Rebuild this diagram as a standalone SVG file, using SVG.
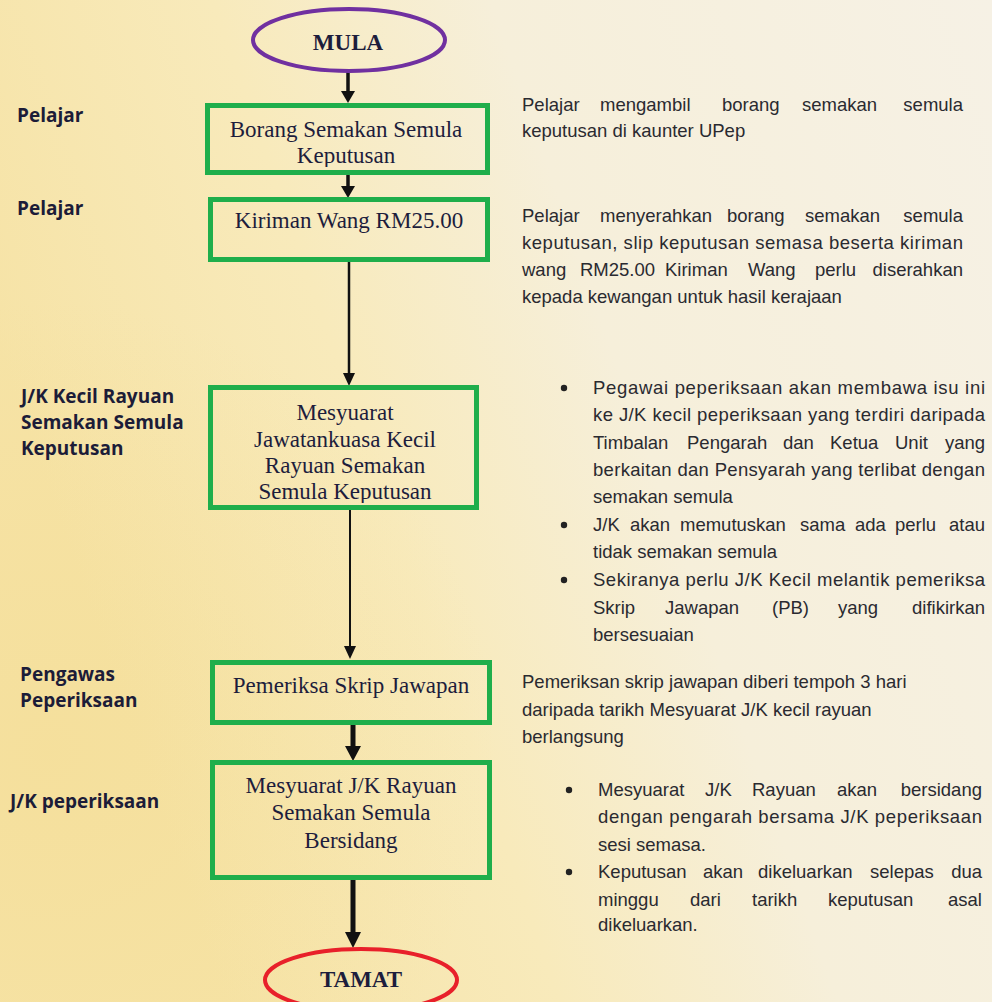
<svg xmlns="http://www.w3.org/2000/svg" width="992" height="1002" viewBox="0 0 992 1002">
<defs>
<linearGradient id="bg" x1="0" y1="0.35" x2="1" y2="0">
<stop offset="0" stop-color="#f6e3a6"/>
<stop offset="0.3" stop-color="#f8eabb"/>
<stop offset="0.55" stop-color="#f6efda"/>
<stop offset="1" stop-color="#f6f1e5"/>
</linearGradient>
<radialGradient id="glow" cx="0.05" cy="0.75" r="0.45">
<stop offset="0" stop-color="#f3d98a" stop-opacity="0.35"/>
<stop offset="1" stop-color="#f3d98a" stop-opacity="0"/>
</radialGradient>
<clipPath id="c1"><rect x="210" y="108" width="275" height="59"/></clipPath>
<clipPath id="c3"><rect x="213" y="390" width="261" height="113"/></clipPath>
<style>
.box{fill:none;stroke:#1fae4b;stroke-width:5}
.bt{font-family:"Liberation Serif","Times New Roman",serif;font-size:23px;fill:#1d1d3c;text-anchor:middle}
.term{font-family:"Liberation Serif","Times New Roman",serif;font-size:23px;font-weight:bold;fill:#1d1d3c;text-anchor:middle}
.lab{font-family:"Open Sans","Liberation Sans",sans-serif;font-size:19px;font-weight:bold;fill:#1c1c38}
.rt{font-family:"Liberation Sans",Arial,sans-serif;font-size:18.5px;fill:#2a2a30}
.e{text-anchor:end}
.ln{stroke:#111;fill:none}
.hd{fill:#111}
</style>
</defs>
<rect width="992" height="1002" fill="url(#bg)"/>
<rect width="992" height="1002" fill="url(#glow)"/>

<g id="connectors">
<line class="ln" x1="348" y1="72" x2="348" y2="92" stroke-width="3.5"/>
<polygon class="hd" points="341,91 355,91 348,103"/>
<line class="ln" x1="348" y1="175" x2="348" y2="187" stroke-width="3.5"/>
<polygon class="hd" points="341,186 355,186 348,198"/>
<line class="ln" x1="349" y1="262" x2="349" y2="375" stroke-width="2.5"/>
<polygon class="hd" points="343,373 355,373 349,386"/>
<line class="ln" x1="350" y1="510" x2="350" y2="648" stroke-width="2"/>
<polygon class="hd" points="344,646 356,646 350,659"/>
<line class="ln" x1="353" y1="725" x2="353" y2="748" stroke-width="5"/>
<polygon class="hd" points="345,746 361,746 353,761"/>
<line class="ln" x1="353" y1="880" x2="353" y2="934" stroke-width="5"/>
<polygon class="hd" points="345,932 361,932 353,948"/>
</g>

<g id="mula">
<ellipse cx="349" cy="40" rx="96" ry="31" fill="none" stroke="#7030a0" stroke-width="4"/>
<text class="term" x="348" y="50">MULA</text>
</g>

<g id="borang">
<g clip-path="url(#c1)">
<text class="bt" x="346" y="137">Borang Semakan Semula</text>
<text class="bt" x="346" y="163">Keputusan</text>
</g>
<rect class="box" x="207.5" y="105.5" width="280" height="67"/>
</g>

<g id="kiriman">
<rect class="box" x="210.5" y="199.5" width="277" height="60"/>
<text class="bt" x="349" y="228">Kiriman Wang RM25.00</text>
</g>

<g id="mesyuarat-kecil">
<g clip-path="url(#c3)">
<text class="bt" x="345" y="420">Mesyuarat</text>
<text class="bt" x="345" y="447">Jawatankuasa Kecil</text>
<text class="bt" x="345" y="473">Rayuan Semakan</text>
<text class="bt" x="345" y="499">Semula Keputusan</text>
</g>
<rect class="box" x="210.5" y="387.5" width="266" height="120"/>
</g>

<g id="pemeriksa">
<rect class="box" x="212.5" y="662.5" width="277" height="60"/>
<text class="bt" x="351" y="693">Pemeriksa Skrip Jawapan</text>
</g>

<g id="mesyuarat-rayuan">
<rect class="box" x="212.5" y="762.5" width="277" height="115"/>
<text class="bt" x="351" y="793">Mesyuarat J/K Rayuan</text>
<text class="bt" x="351" y="820">Semakan Semula</text>
<text class="bt" x="351" y="848">Bersidang</text>
</g>

<g id="tamat">
<ellipse cx="361" cy="980" rx="96" ry="31" fill="none" stroke="#e8202a" stroke-width="4"/>
<text class="term" x="361" y="987">TAMAT</text>
</g>

<g id="labels">
<text class="lab" x="17" y="122">Pelajar</text>
<text class="lab" x="17" y="215">Pelajar</text>
<text class="lab" x="21" y="403">J/K Kecil Rayuan</text>
<text class="lab" x="21" y="429">Semakan Semula</text>
<text class="lab" x="21" y="455">Keputusan</text>
<text class="lab" x="20" y="681">Pengawas</text>
<text class="lab" x="20" y="707">Peperiksaan</text>
<text class="lab" x="10" y="808">J/K peperiksaan</text>
</g>

<g id="desc1">
<text class="rt" y="111"><tspan x="522">Pelajar</tspan><tspan x="600">mengambil</tspan><tspan x="722">borang</tspan><tspan x="802">semakan</tspan><tspan class="e" x="963">semula</tspan></text>
<text class="rt" x="522" y="137">keputusan di kaunter UPep</text>
</g>

<g id="desc2">
<text class="rt" y="222"><tspan x="522">Pelajar</tspan><tspan x="600">menyerahkan</tspan><tspan x="727">borang</tspan><tspan x="805">semakan</tspan><tspan class="e" x="963">semula</tspan></text>
<text class="rt" x="522" y="249" textLength="441" lengthAdjust="spacing">keputusan, slip keputusan semasa beserta kiriman</text>
<text class="rt" y="276"><tspan x="522">wang</tspan><tspan x="580">RM25.00</tspan><tspan x="665">Kiriman</tspan><tspan x="748">Wang</tspan><tspan x="815">perlu</tspan><tspan class="e" x="963">diserahkan</tspan></text>
<text class="rt" x="522" y="303">kepada kewangan untuk hasil kerajaan</text>
</g>

<g id="desc3">
<circle cx="564" cy="388" r="3.2" fill="#222"/>
<circle cx="564" cy="525" r="3.2" fill="#222"/>
<circle cx="564" cy="580" r="3.2" fill="#222"/>
<text class="rt" x="593" y="394" textLength="392" lengthAdjust="spacing">Pegawai peperiksaan akan membawa isu ini</text>
<text class="rt" x="593" y="421" textLength="392" lengthAdjust="spacing">ke J/K kecil peperiksaan yang terdiri daripada</text>
<text class="rt" y="449"><tspan x="593">Timbalan</tspan><tspan x="687">Pengarah</tspan><tspan x="783">dan</tspan><tspan x="830">Ketua</tspan><tspan x="895">Unit</tspan><tspan class="e" x="985">yang</tspan></text>
<text class="rt" x="593" y="476" textLength="392" lengthAdjust="spacing">berkaitan dan Pensyarah yang terlibat dengan</text>
<text class="rt" x="593" y="503">semakan semula</text>
<text class="rt" y="531"><tspan x="593">J/K</tspan><tspan x="630">akan</tspan><tspan x="680">memutuskan</tspan><tspan x="800">sama</tspan><tspan x="855">ada</tspan><tspan x="895">perlu</tspan><tspan class="e" x="985">atau</tspan></text>
<text class="rt" x="593" y="558">tidak semakan semula</text>
<text class="rt" x="593" y="586" textLength="392" lengthAdjust="spacing">Sekiranya perlu J/K Kecil melantik pemeriksa</text>
<text class="rt" y="614"><tspan x="593">Skrip</tspan><tspan x="665">Jawapan</tspan><tspan x="772">(PB)</tspan><tspan x="838">yang</tspan><tspan class="e" x="985">difikirkan</tspan></text>
<text class="rt" x="593" y="641">bersesuaian</text>
</g>

<g id="desc4">
<text class="rt" x="522" y="688">Pemeriksan skrip jawapan diberi tempoh 3 hari</text>
<text class="rt" x="522" y="716">daripada tarikh Mesyuarat J/K kecil rayuan</text>
<text class="rt" x="522" y="743">berlangsung</text>
</g>

<g id="desc5">
<circle cx="569" cy="790" r="3.2" fill="#222"/>
<circle cx="569" cy="872" r="3.2" fill="#222"/>
<text class="rt" y="796"><tspan x="598">Mesyuarat</tspan><tspan x="705">J/K</tspan><tspan x="752">Rayuan</tspan><tspan x="837">akan</tspan><tspan class="e" x="982">bersidang</tspan></text>
<text class="rt" x="598" y="823" textLength="384" lengthAdjust="spacing">dengan pengarah bersama J/K peperiksaan</text>
<text class="rt" x="598" y="851">sesi semasa.</text>
<text class="rt" y="878"><tspan x="598">Keputusan</tspan><tspan x="703">akan</tspan><tspan x="758">dikeluarkan</tspan><tspan x="870">selepas</tspan><tspan class="e" x="982">dua</tspan></text>
<text class="rt" y="906"><tspan x="598">minggu</tspan><tspan x="690">dari</tspan><tspan x="752">tarikh</tspan><tspan x="828">keputusan</tspan><tspan class="e" x="982">asal</tspan></text>
<text class="rt" x="598" y="931">dikeluarkan.</text>
</g>
</svg>
